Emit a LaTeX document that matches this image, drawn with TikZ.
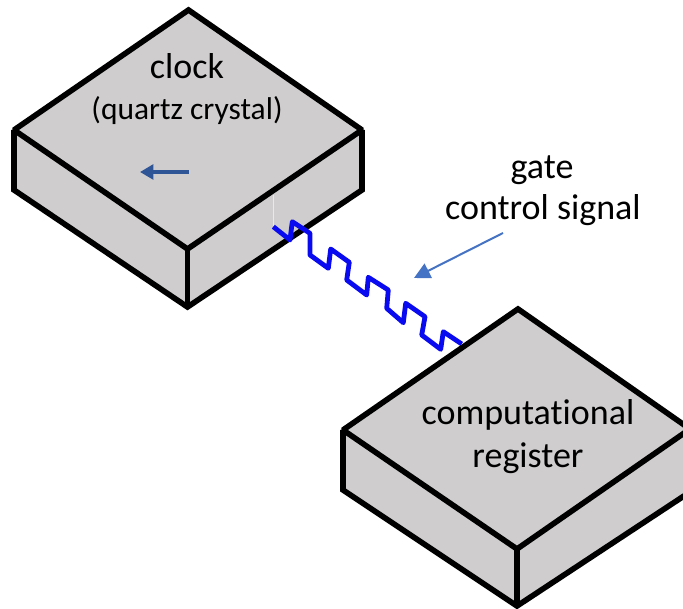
\documentclass[tikz,border=0pt]{standalone}
\usepackage{fontspec}
\setmainfont{Carlito}[Ligatures=NoCommon]
\usetikzlibrary{arrows.meta}
\definecolor{boxgrey}{HTML}{CFCDCE}
\definecolor{wireblue}{HTML}{0A0AF0}
\definecolor{leaderblue}{HTML}{4472C4}
\definecolor{darkarrow}{HTML}{2F5597}
\tikzset{
  x=0.75pt,y=-0.75pt,
  boxedge/.style={draw=black,line width=4.2pt,line join=miter,miter limit=1.5},
  bigtext/.style={font=\fontsize{27}{32}\selectfont,text=black,inner sep=0pt,align=center},
  smalltext/.style={font=\fontsize{23.6}{28}\selectfont,text=black,inner sep=0pt},
  wire/.style={draw=wireblue,line width=3.6pt,line join=round},
  leader/.style={draw=leaderblue,line width=1.5pt,-{Triangle[length=12pt,width=12pt]}},
  shortarrow/.style={draw=darkarrow,line width=2.6pt,-{Triangle[length=10pt,width=11pt]}},
}
\begin{document}
\begin{tikzpicture}
\useasboundingbox (0,0) rectangle (683,609);
\clip (0,0) rectangle (683,609);
% clock block
\coordinate (cT) at (188.5,10);
\coordinate (cR) at (362,130);
\coordinate (cF) at (187.5,249);
\coordinate (cL) at (14,130);
\coordinate (cLL) at (14,190);
\coordinate (cB) at (187.5,307);
\coordinate (cRL) at (362,190);
\path[fill=boxgrey] (cT) -- (cR) -- (cRL) -- (cB) -- (cLL) -- (cL) -- cycle;
\draw[boxedge] (cL) -- (cT) -- (cR) -- (cF) -- cycle;
\draw[boxedge] (cL) -- (cLL) -- (cB) -- (cRL) -- (cR);
\draw[boxedge] (cF) -- (cB);
\draw[white!55!boxgrey,line width=0.4pt] (273,195) -- (273,226);
% wire
\coordinate (w0) at (273.3,226.7);
\coordinate (w1) at (461.7,344);
\draw[wire] (w0) -- (290,240) -- (292.3,221.7) -- (310,233.3) -- (310,255) -- (328.3,268.3)
  -- (330.7,249) -- (349.3,262.3) -- (346.7,280) -- (366.7,295) -- (368.3,277.3) -- (388.3,290)
  -- (386.7,308.3) -- (403.3,322.7) -- (405.7,303.3) -- (425,316.7) -- (421.7,335) -- (440.7,349.3)
  -- (443.3,331.7) -- (w1);
% register block
\coordinate (rT) at (518,309);
\coordinate (rR) at (690,429);
\coordinate (rF) at (517,549);
\coordinate (rL) at (343,430);
\coordinate (rLL) at (343,490);
\coordinate (rB) at (517,606);
\coordinate (rRL) at (690,492);
\path[fill=boxgrey] (rT) -- (rR) -- (rRL) -- (rB) -- (rLL) -- (rL) -- cycle;
\draw[boxedge] (rL) -- (rT) -- (rR) -- (rF) -- cycle;
\draw[boxedge] (rL) -- (rLL) -- (rB) -- (rRL);
\draw[boxedge] (rF) -- (rB);
% labels
\node[bigtext] (clock) at (187,66) {clock};
\node[smalltext] (quartz) at (187,111) {(quartz crystal)};
\node[bigtext] (comp) at (528,415) {computational};
\node[bigtext] (reg) at (528,458) {register};
\node[bigtext] (gate) at (542,170) {gate};
\node[bigtext] (ctrl) at (543,210) {control signal};
% arrows
\coordinate (a0) at (503,233);
\coordinate (a1) at (414,278);
\draw[leader] (a0) -- (a1);
\coordinate (b0) at (189,172);
\coordinate (b1) at (140,172);
\draw[shortarrow] (b0) -- (b1);
\end{tikzpicture}
\end{document}
